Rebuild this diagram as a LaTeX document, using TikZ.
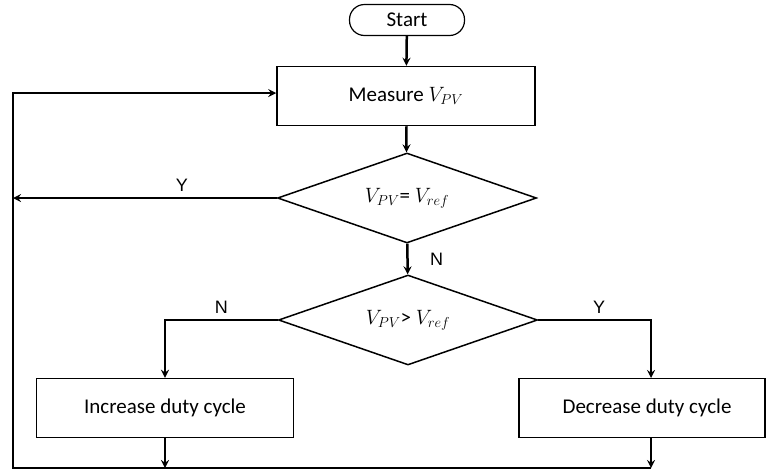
\documentclass[tikz,border=0pt]{standalone}
\usepackage{fontspec}
\setmainfont{Carlito}
\newfontfamily\labelfont{Liberation Sans}
\usetikzlibrary{shapes.geometric}
\begin{document}
\begin{tikzpicture}[x=1pt,y=-1pt,font=\fontsize{21}{24}\selectfont, line join=miter, >=stealth,
	stepbox/.style={draw,line width=1.5pt,minimum width=257pt,minimum height=59pt,inner sep=0pt},
	decision/.style={draw,diamond,aspect=2.9,line width=1.5pt,minimum width=259pt,minimum height=90pt,inner sep=0pt},
	flow/.style={line width=2.5pt},
	yn/.style={font=\labelfont\fontsize{18}{20}\selectfont}]
	\useasboundingbox (0,0) rectangle (766,469);
	\node[draw,line width=1.2pt,rounded corners=15pt,minimum width=115pt,minimum height=31pt,inner sep=0pt] (start) at (407,20) {Start};
	\node[stepbox,minimum width=258pt] (measure) at (406,96) {Measure $V_{PV}$};
	\node[decision] (eq) at (407,198) {$V_{PV}$= $V_{ref}$};
	\node[decision] (gt) at (408,320) {$V_{PV}$> $V_{ref}$};
	\node[stepbox] (inc) at (165,408) {Increase duty cycle};
	\node[stepbox,minimum width=246pt] (dec) at (642,408) {\hspace*{10pt}Decrease duty cycle};
	\coordinate (bl) at (13,468);
	\coordinate (dectop) at (651,378);
	\coordinate (decbot) at (651,438);
	\draw[flow,->] (start) -- (measure);
	\draw[flow,->] (measure) -- (eq);
	\draw[flow,->] (eq.west) -- (eq.west -| bl) node[yn,pos=0.36,above=2pt]{Y};
	\draw[flow,->] (eq) -- (gt) node[yn,midway,right=18pt]{N};
	\draw[flow,->] (gt.west) -| (inc.north) node[yn,pos=0.25,above=2pt]{N};
	\draw[flow,->] (gt.east) -| (dectop) node[yn,pos=0.27,above=2pt]{Y};
	\draw[flow,->] (inc.south) -- (inc.south |- bl);
	\draw[flow,->] (decbot) -- (decbot |- bl);
	\draw[flow,->] (decbot |- bl) -- (bl) |- ([yshift=3pt]measure.west);
\end{tikzpicture}
\end{document}
